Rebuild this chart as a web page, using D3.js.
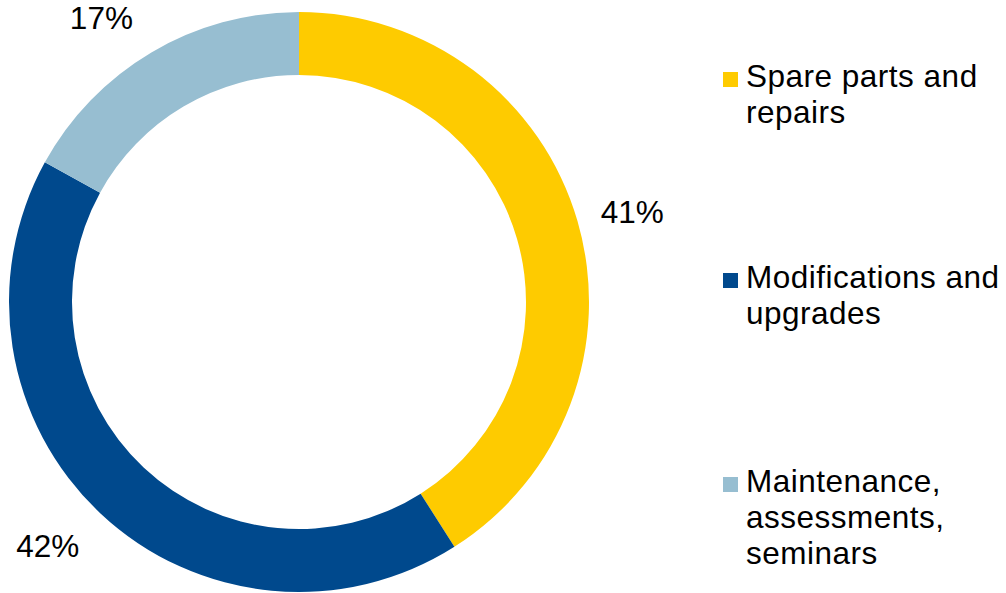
<!DOCTYPE html>
<html>
<head>
<meta charset="utf-8">
<script src="https://cdn.jsdelivr.net/npm/d3@7"></script>
<style>
  html, body { margin: 0; padding: 0; background: #fff; }
  svg { display: block; }
  text { font-family: "Liberation Sans", Arial, sans-serif; fill: #000; }
</style>
</head>
<body>
<svg id="chart" width="1006" height="593"></svg>
<script>
// Share of service revenue by category
const categories = ["Spare parts and repairs", "Modifications and upgrades", "Maintenance, assessments, seminars"];
const shares = [41, 42, 17];
const legendLines = [
  ["Spare parts and", "repairs"],
  ["Modifications and", "upgrades"],
  ["Maintenance,", "assessments,", "seminars"]
];
const colors = ["#FECB00", "#00498D", "#97BED1"];

const cx = 299, cy = 302;
const outerR = 290, innerR = 227;
const labelR = 345;
const fontSize = 31.5;

const svg = d3.select("#chart");

const pie = d3.pie().sort(null).value(d => d)(shares);
const arc = d3.arc().innerRadius(innerR).outerRadius(outerR);
const labelArc = d3.arc().innerRadius(labelR).outerRadius(labelR);

const g = svg.append("g").attr("transform", `translate(${cx},${cy})`);

g.selectAll("path.slice")
  .data(pie)
  .join("path")
  .attr("class", "slice")
  .attr("d", arc)
  .attr("fill", (d, i) => colors[i]);

// small nudges so the labels sit clear of the ring
const labelNudge = [[2, 6], [-15, -7], [-22, 13]];

g.selectAll("text.pct")
  .data(pie)
  .join("text")
  .attr("class", "pct")
  .attr("x", (d, i) => labelArc.centroid(d)[0] + labelNudge[i][0])
  .attr("y", (d, i) => labelArc.centroid(d)[1] + labelNudge[i][1])
  .attr("text-anchor", "middle")
  .attr("dominant-baseline", "central")
  .style("font-size", fontSize + "px")
  .text(d => d.data + "%");

// legend
const legendTop = [87, 288, 492];
const lineGap = 36;
const legend = svg.append("g");
categories.forEach((c, i) => {
  const item = legend.append("g").attr("class", "legend-item");
  item.append("rect")
    .attr("x", 723)
    .attr("y", legendTop[i] - 15)
    .attr("width", 15)
    .attr("height", 15)
    .attr("fill", colors[i]);
  const t = item.append("text")
    .attr("x", 746)
    .attr("y", legendTop[i])
    .style("font-size", fontSize + "px")
    .style("letter-spacing", "0.5px");
  legendLines[i].forEach((line, j) => {
    t.append("tspan")
      .attr("x", 746)
      .attr("y", legendTop[i] + j * lineGap)
      .text(line);
  });
});
</script>
</body>
</html>
